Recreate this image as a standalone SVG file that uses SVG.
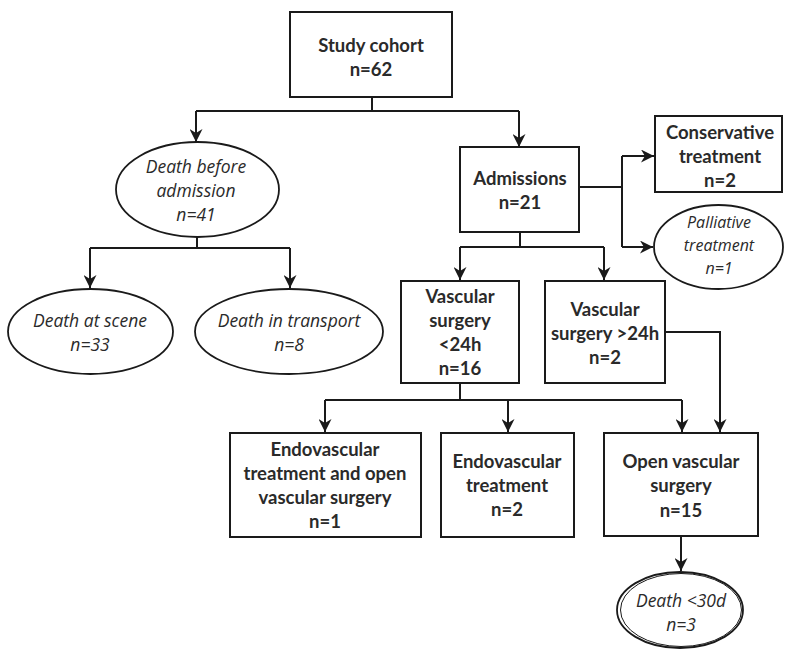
<svg xmlns="http://www.w3.org/2000/svg" width="787" height="650" viewBox="0 0 787 650">
<style>
.box{fill:#fff;stroke:#1a1a1a;stroke-width:2}
.ell{fill:#fff;stroke:#1a1a1a;stroke-width:1.8}
.b{font-family:Lato,"Liberation Sans",sans-serif;font-weight:bold;font-size:18.5px;fill:#2a2a2a;text-anchor:middle}
.i{font-family:"Open Sans","DejaVu Sans",sans-serif;font-style:italic;font-size:17.5px;fill:#2a2a2a;text-anchor:middle}
.s{font-size:16px}
.c{fill:none;stroke:#1a1a1a;stroke-width:2}
</style>
<defs>
<marker id="ah" viewBox="0 0 10 10" refX="10" refY="5" markerWidth="6.5" markerHeight="6.5" orient="auto" markerUnits="strokeWidth">
<path d="M0,0 L10,5 L0,10 L3,5 Z" fill="#1a1a1a"/>
</marker>
</defs>
<rect width="787" height="650" fill="#fff"/>
<g id="connectors">
<path class="c" d="M372,97 V111 M196,111 H519"/>
<path class="c" d="M196,111 V142" marker-end="url(#ah)"/>
<path class="c" d="M519,111 V147" marker-end="url(#ah)"/>
<path class="c" d="M197,237 V248 M90,248 H290"/>
<path class="c" d="M90,248 V288" marker-end="url(#ah)"/>
<path class="c" d="M290,248 V288" marker-end="url(#ah)"/>
<path class="c" d="M579,187 H622 M622,156 V247"/>
<path class="c" d="M622,156 H654" marker-end="url(#ah)"/>
<path class="c" d="M622,247 H653" marker-end="url(#ah)"/>
<path class="c" d="M520,232 V247 M460,247 H604"/>
<path class="c" d="M460,247 V280" marker-end="url(#ah)"/>
<path class="c" d="M604,247 V280" marker-end="url(#ah)"/>
<path class="c" d="M460,383 V400 M325,400 H682"/>
<path class="c" d="M325,400 V432" marker-end="url(#ah)"/>
<path class="c" d="M508,400 V432" marker-end="url(#ah)"/>
<path class="c" d="M682,400 V432" marker-end="url(#ah)"/>
<path class="c" d="M665,332 H720 V432" marker-end="url(#ah)"/>
<path class="c" d="M681,536 V571" marker-end="url(#ah)"/>
</g>
<g id="study-cohort">
<rect class="box" x="290" y="12" width="162" height="85"/>
<text class="b" x="371" y="52">Study cohort</text>
<text class="b" x="371" y="76">n=62</text>
</g>
<g id="death-before-admission">
<ellipse class="ell" cx="197.5" cy="189.5" rx="81.5" ry="47.5"/>
<text class="i" x="196" y="173">Death before</text>
<text class="i" x="196" y="197">admission</text>
<text class="i" x="196" y="221">n=41</text>
</g>
<g id="admissions">
<rect class="box" x="460" y="147" width="119" height="85"/>
<text class="b" x="520" y="185">Admissions</text>
<text class="b" x="520" y="209">n=21</text>
</g>
<g id="conservative-treatment">
<rect class="box" x="655" y="116" width="127" height="76"/>
<text class="b" x="720" y="139">Conservative</text>
<text class="b" x="720" y="163">treatment</text>
<text class="b" x="720" y="187">n=2</text>
</g>
<g id="palliative-treatment">
<ellipse class="ell" cx="718.5" cy="247" rx="64.5" ry="42"/>
<text class="i s" x="719" y="228">Palliative</text>
<text class="i s" x="719" y="251">treatment</text>
<text class="i s" x="719" y="274">n=1</text>
</g>
<g id="death-at-scene">
<ellipse class="ell" cx="90.5" cy="331.5" rx="82.5" ry="42.5"/>
<text class="i" x="90" y="327">Death at scene</text>
<text class="i" x="90" y="351">n=33</text>
</g>
<g id="death-in-transport">
<ellipse class="ell" cx="289" cy="331.5" rx="94" ry="42.5"/>
<text class="i" x="289" y="327">Death in transport</text>
<text class="i" x="289" y="351">n=8</text>
</g>
<g id="vascular-lt24">
<rect class="box" x="401" y="281" width="118" height="102"/>
<text class="b" x="460" y="303">Vascular</text>
<text class="b" x="460" y="327">surgery</text>
<text class="b" x="460" y="351">&lt;24h</text>
<text class="b" x="460" y="375">n=16</text>
</g>
<g id="vascular-gt24">
<rect class="box" x="545" y="281" width="120" height="102"/>
<text class="b" x="605" y="316">Vascular</text>
<text class="b" x="605" y="340">surgery &gt;24h</text>
<text class="b" x="605" y="364">n=2</text>
</g>
<g id="endo-and-open">
<rect class="box" x="230" y="433" width="191" height="104"/>
<text class="b" x="325" y="456">Endovascular</text>
<text class="b" x="325" y="480">treatment and open</text>
<text class="b" x="325" y="504">vascular surgery</text>
<text class="b" x="325" y="528">n=1</text>
</g>
<g id="endovascular">
<rect class="box" x="441" y="433" width="133" height="104"/>
<text class="b" x="507" y="468">Endovascular</text>
<text class="b" x="507" y="492">treatment</text>
<text class="b" x="507" y="516">n=2</text>
</g>
<g id="open-vascular">
<rect class="box" x="604" y="433" width="154" height="103"/>
<text class="b" x="681" y="468">Open vascular</text>
<text class="b" x="681" y="492">surgery</text>
<text class="b" x="681" y="517">n=15</text>
</g>
<g id="death-lt30d">
<ellipse class="ell" cx="680" cy="610" rx="63" ry="38" stroke-width="2.6"/>
<ellipse cx="681" cy="610" rx="60.5" ry="36.5" fill="none" stroke="#1a1a1a" stroke-width="1"/>
<text class="i" x="681" y="607">Death &lt;30d</text>
<text class="i" x="681" y="631">n=3</text>
</g>
</svg>
